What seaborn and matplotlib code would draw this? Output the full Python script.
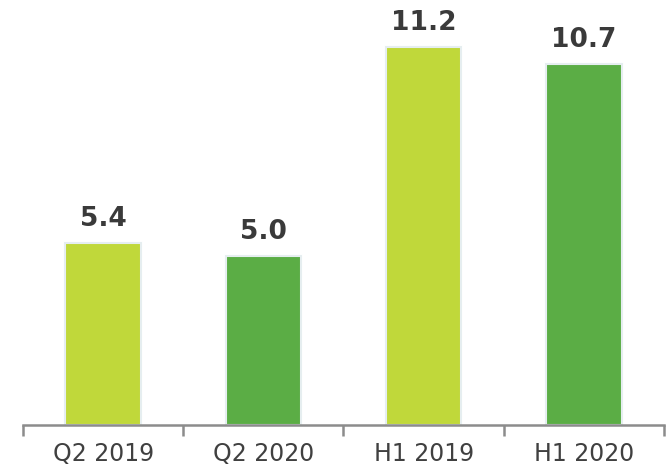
import pandas as pd
import numpy as np
import seaborn as sns
import matplotlib.pyplot as plt

periods = ["Q2 2019", "Q2 2020", "H1 2019", "H1 2020"]
values = [5.4, 5.0, 11.2, 10.7]
colors = ["#C0D83A", "#5BAD45", "#C0D83A", "#5BAD45"]

df = pd.DataFrame({"period": periods, "value": values})

sns.set_style("white")
plt.rcParams['font.family'] = ['DejaVu Sans']

fig = plt.figure(figsize=(6.66, 4.69), dpi=100)
ax = fig.add_axes([0.0345, 0.0938, 0.9625, 0.9062])

sns.barplot(data=df, x="period", y="value", hue="period", palette=colors,
            saturation=1, width=0.47, edgecolor="#E6EEF0", linewidth=1.5,
            legend=False, ax=ax)

for i, v in enumerate(values):
    ax.text(i, v + 0.33, f"{v:.1f}", ha="center", va="bottom",
            fontsize=19, fontweight="heavy", color="#3a3a3a")

ax.set_xlim(-0.5, 3.5)
ax.set_ylim(0, 12.59)
ax.set_xlabel("")
ax.set_ylabel("")
ax.set_yticks([])

for s in ["top", "right", "left"]:
    ax.spines[s].set_visible(False)
ax.spines["bottom"].set_color("#8c8c8c")
ax.spines["bottom"].set_linewidth(1.8)

ax.set_xticks(np.arange(-0.5, 4, 1), minor=True)
ax.tick_params(axis="x", which="minor", bottom=True, length=8, width=1.8,
               color="#8c8c8c", direction="out")
ax.tick_params(axis="x", which="major", length=0, pad=12, labelsize=17,
               labelcolor="#404040")

fig.savefig("out.png", dpi=100)
